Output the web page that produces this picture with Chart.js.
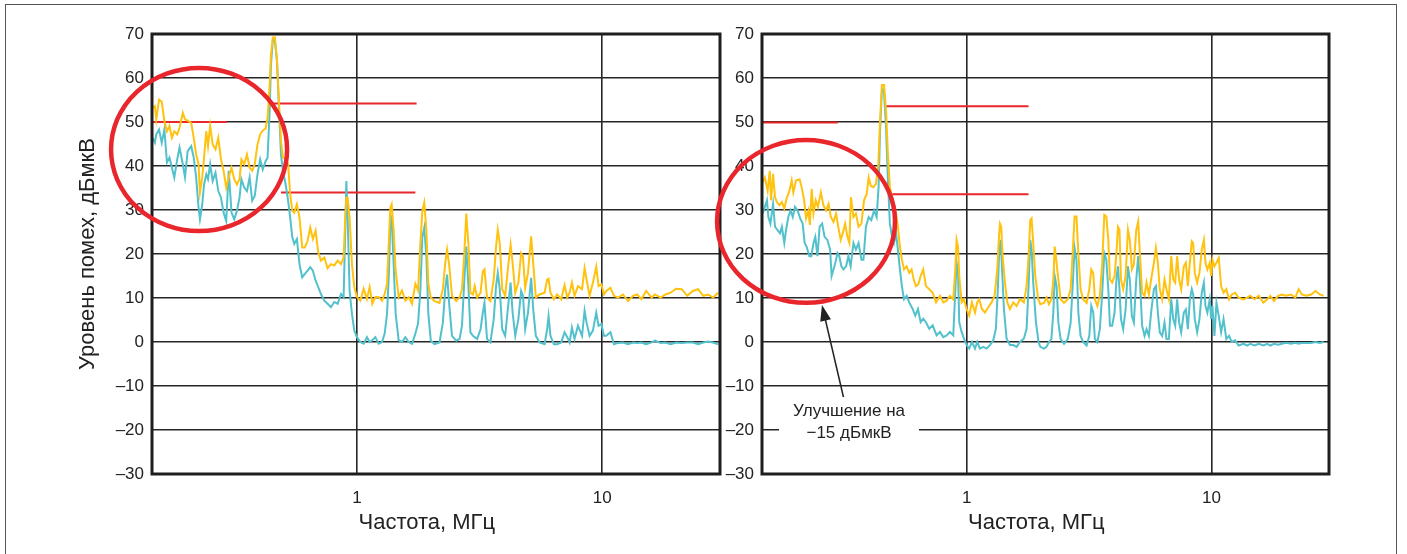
<!DOCTYPE html>
<html>
<head>
<meta charset="utf-8">
<script src="https://cdn.jsdelivr.net/npm/chart.js@4.4.1/dist/chart.umd.min.js"></script>
<style>
  html, body { margin: 0; padding: 0; background: #fff; }
  #wrap { position: relative; width: 1407px; height: 554px; overflow: hidden; }
  #frame { position: absolute; left: 5px; top: 4px; width: 1390px; height: 600px; border: 1px solid #555; }
  #c1 { position: absolute; left: 0; top: 0; }
  #c2 { position: absolute; left: 700px; top: 0; }
</style>
</head>
<body>
<div id="wrap">
  <div id="frame"></div>
  <canvas id="c1" width="722" height="554"></canvas>
  <canvas id="c2" width="707" height="554"></canvas>
</div>
<script>
// ======================
// Оси
// ======================
const xTicks = [1, 10];
const yTicks = [-30, -20, -10, 0, 10, 20, 30, 40, 50, 60, 70];

// ======================
// Левый график (до доработки)
// ======================
const leftFreq = [0.147,0.150,0.152,0.156,0.160,0.164,0.168,0.172,0.176,0.180,
  0.185,0.189,0.195,0.199,0.204,0.211,0.216,0.221,0.226,0.229,
  0.234,0.238,0.243,0.247,0.252,0.258,0.265,0.272,0.279,0.286,
  0.293,0.300,0.308,0.316,0.324,0.332,0.338,0.347,0.356,0.365,
  0.374,0.383,0.393,0.403,0.413,0.424,0.432,0.440,0.446,0.454,
  0.463,0.472,0.480,0.490,0.499,0.512,0.524,0.534,0.545,0.555,
  0.569,0.583,0.598,0.613,0.629,0.645,0.661,0.678,0.695,0.713,
  0.736,0.759,0.783,0.808,0.834,0.861,0.882,0.896,0.905,0.916,
  0.933,0.954,0.975,1.0,1.032,1.065,1.098,1.126,1.155,1.188,
  1.226,1.265,1.297,1.326,1.351,1.368,1.385,1.411,1.438,1.479,
  1.526,1.575,1.625,1.677,1.730,1.774,1.813,1.847,1.881,1.919,1.954,
  2.00,2.07,2.17,2.24,2.29,2.33,2.38,2.44,2.54,2.62,
  2.68,2.74,2.79,2.85,2.90,2.97,3.02,3.09,3.19,3.26,
  3.31,3.39,3.50,3.61,3.69,3.75,3.82,3.91,4.02,4.12,
  4.23,4.31,4.42,4.55,4.67,4.75,4.85,4.98,5.13,5.23,
  5.36,5.55,5.82,5.96,6.04,6.15,6.35,6.55,6.80,7.02,
  7.20,7.36,7.52,7.71,7.96,8.27,8.47,8.63,8.88,9.16,
  9.45,9.66,9.91,10.16,10.38,10.8,11.16,11.6,12.15,12.73,
  13.35,13.9,14.43,15.1,15.9,16.4,17.3,18.1,19.0,20.0,
  21.1,22.2,23.4,24.6,25.8,27.0,28.3,29.7];

const leftYellow = [53.2,53.6,50.6,55.1,54.6,50.2,47.9,49.1,46.4,47.9,
  47.2,48.7,52.1,50.6,50.3,49.8,46.4,42.6,40.4,34.0,
  37.4,41.9,47.9,44.5,49.1,44.9,43.8,46.4,41.5,38.9,
  35.1,37.4,39.6,37.0,35.8,37.0,41.5,40.4,42.6,39.6,
  38.9,40.4,44.9,47.2,48.1,48.5,50.9,57.7,65.3,69.2,
  69.2,63.8,55.5,45.7,41.9,41.9,40.4,33.6,29.8,29.4,
  31.3,28.3,21.5,21.5,23.0,26.0,23.4,25.3,20.4,18.5,
  19.2,16.8,17.7,17.4,18.5,17.7,19.2,28.3,32.8,32.8,
  28.3,17.7,12.5,10.2,9.4,12.1,9.8,12.5,8.7,10.2,
  10.2,9.4,10.9,13.2,23.8,30.6,31.3,25.3,16.2,10.2,
  11.7,9.4,10.2,8.7,13.2,11.7,22.3,29.8,31.7,25.3,13.2,
  10.1,9.3,8.9,12.0,18.0,21.0,17.2,10.5,9.3,10.1,
  12.0,20.2,29.2,21.7,11.2,10.8,12.7,10.1,11.2,16.1,
  16.5,10.1,9.3,14.2,21.7,25.5,22.5,12.0,10.5,16.5,
  22.1,18.0,11.2,13.5,20.2,19.5,12.3,15.7,24.0,18.0,
  10.1,10.8,11.2,14.2,14.4,11.2,9.7,10.8,9.7,12.9,
  10.1,11.2,13.5,10.5,12.7,12.0,16.8,14.2,10.5,13.5,
  17.1,12.7,13.1,10.8,11.6,12.3,10.5,10.1,10.8,9.3,
  10.5,10.8,9.7,11.6,10.1,10.8,10.1,10.8,11.2,12.1,
  12.0,10.5,11.6,12.0,10.5,10.8,10.1,11.2];

const leftCyan = [46.4,45.3,47.2,48.3,45.3,48.3,40.8,41.9,39.6,37.4,
  41.5,44.2,40.4,37.4,43.4,44.5,41.9,37.4,30.6,27.9,
  31.3,35.8,38.1,37.0,40.4,36.6,38.5,34.3,32.8,29.4,
  27.5,38.9,29.4,27.9,29.8,32.8,37.0,35.1,34.3,37.4,
  32.1,33.2,38.1,41.5,39.2,41.1,41.9,51.7,63.0,68.7,
  68.3,63.8,54.0,42.6,38.9,35.8,32.1,28.3,23.8,22.3,
  23.4,17.7,14.7,15.5,16.2,17.0,16.2,14.0,12.5,10.9,
  9.4,8.7,7.9,9.1,8.7,10.9,10.2,25.3,36.6,28.3,
  11.7,6.4,2.6,1.1,0.0,-0.4,1.1,0.0,0.4,1.1,
  -0.4,0.0,1.9,6.4,16.2,27.5,28.3,17.7,6.4,0.4,
  0.0,1.1,0.0,-0.4,1.9,4.2,11.7,23.8,26.0,19.2,6.4,
  0.3,-0.5,-0.1,4.4,12.0,15.3,8.2,1.4,0.3,0.7,
  3.7,14.2,21.7,12.0,2.2,1.4,1.1,0.7,2.9,6.7,
  8.9,0.7,-0.1,5.2,12.7,15.7,12.0,2.9,1.4,7.4,
  13.5,6.7,1.4,5.2,11.6,10.5,2.9,6.7,14.6,7.4,
  1.4,-0.1,-0.5,2.9,5.9,1.4,-0.5,-0.5,-0.1,2.2,
  1.1,-0.1,3.3,0.7,3.7,1.4,7.1,4.4,1.4,2.6,
  6.7,3.7,4.1,1.4,1.4,2.2,-0.5,-0.2,-0.1,-0.5,
  -0.1,-0.2,-0.1,-0.5,-0.1,0.3,-0.2,-0.1,-0.5,-0.1,
  -0.2,-0.1,-0.1,-0.5,-0.1,0.1,-0.1,-0.5];

// ======================
// Правый график (после доработки)
// ======================
const rightYellowFreq = [0.147,0.150,0.154,0.157,0.159,0.162,0.165,0.168,0.172,0.176,
  0.180,0.184,0.189,0.193,0.196,0.201,0.208,0.212,0.217,0.221,
  0.226,0.229,0.233,0.237,0.242,0.247,0.254,0.260,0.267,0.273,
  0.279,0.286,0.293,0.299,0.306,0.312,0.319,0.326,0.332,0.337,
  0.345,0.353,0.362,0.372,0.381,0.391,0.398,0.406,0.416,0.426,
  0.436,0.443,0.451,0.460,0.469,0.477,0.486,0.496,0.505,0.515,
  0.524,0.534,0.544,0.555,0.569,0.583,0.596,0.610,0.621,0.635,
  0.649,0.665,0.682,0.704,0.727,0.750,0.778,0.803,0.829,0.855,
  0.882,0.899,0.910,0.922,0.933,0.954,0.975,1.0,1.025,1.051,
  1.082,1.105,1.126,1.155,1.188,1.226,1.265,1.301,1.334,1.351,
  1.368,1.385,1.403,1.434,1.466,1.503,1.551,1.600,1.651,1.714,
  1.758,1.791,1.819,1.842,1.871,1.907,1.961,
  2.00,2.07,2.12,2.17,2.22,2.26,2.29,2.33,2.37,2.42,
  2.50,2.59,2.66,2.72,2.76,2.81,2.86,2.92,2.99,3.09,
  3.17,3.23,3.29,3.34,3.42,3.50,3.58,3.65,3.72,3.79,
  3.85,3.93,4.02,4.10,4.15,4.21,4.27,4.36,4.46,4.56,
  4.64,4.73,4.82,4.93,5.02,5.10,5.21,5.33,5.43,5.55,
  5.67,5.82,5.93,6.04,6.15,6.29,6.43,6.55,6.70,6.85,
  6.98,7.11,7.24,7.38,7.52,7.71,7.86,8.01,8.16,8.31,
  8.42,8.55,8.74,8.93,9.13,9.31,9.45,9.62,9.84,9.97,
  10.09,10.28,10.48,10.71,10.95,11.2,11.5,11.8,12.1,12.5,
  12.9,13.5,14.0,14.4,15.0,15.6,16.3,16.9,17.4,18.0,
  18.7,19.4,20.2,21.1,22.0,22.7,23.4,24.4,25.5,26.6,
  27.7,28.7];

const rightYellow = [36.3,37.4,34.4,38.9,32.2,38.2,32.9,31.8,31.1,31.8,
  30.3,32.6,34.4,36.7,34.0,36.7,37.0,35.2,32.2,28.1,
  29.9,26.6,34.8,29.2,32.2,30.7,34.0,31.1,29.9,31.4,
  28.4,27.3,29.2,26.2,23.2,24.7,26.9,23.9,22.5,32.9,
  28.4,29.2,26.2,26.9,32.2,33.7,37.4,35.5,35.2,35.9,
  40.4,50.1,58.4,58.4,52.4,42.6,35.2,32.9,31.4,29.2,
  26.2,21.7,18.7,16.5,17.2,15.7,16.5,13.9,12.7,13.1,
  15.0,16.5,12.7,12.0,11.2,9.0,10.5,9.0,9.4,10.5,
  9.7,16.5,23.2,21.7,15.0,9.0,9.7,7.5,6.0,9.0,
  6.7,9.0,9.7,7.5,6.7,7.9,9.0,10.5,16.5,22.5,
  26.9,26.2,19.5,13.5,9.0,7.5,9.0,8.2,9.7,9.0,
  12.7,19.5,27.7,28.1,22.5,15.0,9.7,
  8.6,8.9,10.1,8.6,9.7,14.2,21.7,18.0,14.2,9.7,
  8.9,9.7,12.0,21.7,28.5,28.5,20.2,12.0,9.7,8.9,
  12.0,16.5,15.7,9.7,8.2,10.5,18.0,28.9,28.5,23.2,
  14.2,13.5,15.0,21.0,26.2,25.5,14.2,12.0,15.0,25.5,
  23.2,16.5,17.6,25.5,27.4,20.2,11.2,10.5,13.5,10.8,
  14.2,18.0,21.4,18.0,12.0,9.7,14.2,12.0,9.7,19.5,
  14.2,13.5,19.5,14.2,12.0,17.2,18.0,12.7,18.0,22.9,
  22.5,15.7,13.5,15.7,21.0,23.2,18.0,16.5,18.0,15.0,
  18.7,17.2,18.0,19.1,12.7,11.2,12.0,9.7,10.8,11.2,
  10.1,9.7,10.1,10.5,9.7,10.5,8.9,9.7,10.5,9.3,
  10.5,10.8,10.5,10.8,10.1,12.0,10.8,10.5,10.8,11.6,
  10.8,10.5];

const rightCyanFreq = [0.147,0.150,0.153,0.155,0.158,0.162,0.165,0.169,0.173,0.176,
  0.180,0.183,0.187,0.191,0.195,0.199,0.204,0.209,0.214,0.218,
  0.222,0.228,0.232,0.237,0.241,0.246,0.251,0.257,0.263,0.270,
  0.277,0.281,0.286,0.291,0.297,0.302,0.308,0.314,0.322,0.329,
  0.336,0.345,0.353,0.362,0.372,0.379,0.388,0.398,0.408,0.419,
  0.429,0.437,0.443,0.451,0.460,0.469,0.477,0.486,0.496,0.505,
  0.515,0.524,0.534,0.544,0.555,0.569,0.583,0.602,0.617,0.633,
  0.649,0.665,0.682,0.704,0.727,0.754,0.778,0.803,0.829,0.855,
  0.882,0.896,0.910,0.922,0.933,0.954,0.975,1.0,1.025,1.051,
  1.082,1.105,1.133,1.170,1.207,1.245,1.285,1.317,1.343,1.359,
  1.377,1.394,1.420,1.456,1.503,1.551,1.600,1.651,1.714,1.758,
  1.791,1.819,1.842,1.871,1.919,1.967,
  2.00,2.07,2.12,2.17,2.22,2.26,2.29,2.33,2.37,2.42,
  2.50,2.59,2.66,2.72,2.76,2.81,2.86,2.92,2.99,3.09,
  3.17,3.23,3.29,3.34,3.42,3.50,3.58,3.65,3.72,3.79,
  3.85,3.93,4.02,4.10,4.15,4.21,4.27,4.36,4.46,4.56,
  4.64,4.73,4.82,4.93,5.02,5.10,5.21,5.33,5.43,5.55,
  5.67,5.82,5.93,6.04,6.15,6.29,6.43,6.55,6.70,6.85,
  6.98,7.11,7.24,7.38,7.52,7.71,7.86,8.01,8.16,8.31,
  8.42,8.55,8.74,8.93,9.13,9.31,9.45,9.62,9.84,9.97,
  10.09,10.28,10.48,10.71,10.95,11.2,11.5,11.8,12.1,12.5,
  12.9,13.5,14.0,14.4,15.0,15.6,16.3,16.9,17.4,18.0,
  18.7,19.4,20.2,21.1,22.0,22.7,23.4,24.4,25.5,26.6,
  27.7,28.7];

const rightCyan = [29.2,30.7,32.2,28.4,26.9,31.4,26.2,25.4,24.7,26.2,
  22.5,25.4,28.4,29.9,28.4,30.7,29.9,28.1,26.9,22.5,
  21.7,19.5,19.5,22.5,23.9,19.5,26.2,26.9,23.9,23.2,
  21.0,15.0,16.5,18.0,20.2,19.5,17.2,16.5,17.2,19.5,
  17.2,22.5,21.0,22.5,18.7,18.7,26.2,28.4,27.7,29.9,
  28.4,35.2,47.9,57.6,56.9,48.6,36.7,26.9,23.9,22.5,
  24.7,21.0,16.5,12.7,9.7,10.5,9.0,7.5,6.0,7.5,
  4.5,5.3,4.5,3.0,3.8,1.5,2.3,1.1,1.5,2.3,
  1.5,9.7,18.0,16.5,4.5,2.3,0.8,-0.7,-1.5,0.0,
  -1.5,0.0,-1.5,-1.1,-1.5,-0.7,0.4,3.0,12.7,21.0,
  23.2,17.2,7.5,0.8,-0.7,-0.7,-1.1,0.0,0.8,3.0,
  12.7,23.2,21.0,13.5,4.5,0.0,
  -1.1,-1.5,-1.1,0.0,0.7,6.7,15.0,12.7,4.4,0.7,
  -0.4,0.7,4.4,14.2,21.4,18.7,6.7,1.4,0.0,-0.8,
  1.4,8.2,6.7,0.7,0.0,2.9,11.2,20.2,18.7,12.0,
  3.7,3.7,6.7,15.0,17.2,12.0,5.2,2.9,7.4,17.2,
  14.2,5.9,4.4,14.2,19.5,14.2,3.7,1.4,2.9,1.4,
  6.7,12.0,12.7,6.7,2.2,1.4,4.4,0.7,0.7,9.7,
  5.2,3.7,9.7,4.4,2.2,6.7,7.4,2.9,9.7,12.0,
  10.8,5.2,2.2,5.2,11.2,13.5,8.2,6.7,9.7,5.2,
  8.2,1.4,8.9,5.9,2.2,5.2,0.7,1.4,0.0,0.4,
  -0.8,-0.4,-0.8,-0.4,-0.8,-0.4,-0.8,-0.4,-0.8,-0.4,
  -0.6,-0.4,-0.2,-0.4,-0.2,-0.4,-0.2,-0.2,-0.2,0.0,
  -0.2,0.0];

// ======================
// Нормы (красные линии): от, до, уровень
// ======================
const leftLimFrom = [0.146, 0.450, 0.490];
const leftLimTo = [0.295, 1.75, 1.73];
const leftLimLevel = [50.0, 54.2, 34.0];
const rightLimFrom = [0.146, 0.461, 0.484];
const rightLimTo = [0.298, 1.79, 1.79];
const rightLimLevel = [49.9, 53.6, 33.6];

const YELLOW = "#FFC20E";
const CYAN = "#52C1CC";
const RED = "#E8262B";
const GRID = "#262626";
const TEXT = "#222";

Chart.defaults.font.family = "'Liberation Sans', Arial, sans-serif";
Chart.defaults.color = TEXT;

function series(freq, vals, color) {
  return {
    data: freq.map((f, i) => ({ x: f, y: vals[i] })),
    borderColor: color, borderWidth: 2, pointRadius: 0, tension: 0, fill: false
  };
}

function limits(from, to, level) {
  return from.map((f, i) => ({
    data: [{ x: f, y: level[i] }, { x: to[i], y: level[i] }],
    borderColor: RED, borderWidth: 2, pointRadius: 0, fill: false
  }));
}

// рамка, круги, стрелка и подпись
const notes = {
  id: "notes",
  afterDatasetsDraw(chart) {
    const a = chart.chartArea, ctx = chart.ctx;
    ctx.save();
    ctx.lineWidth = 3;
    ctx.strokeStyle = "#1e1e1e";
    ctx.strokeRect(a.left, a.top, a.right - a.left, a.bottom - a.top);
    ctx.restore();
  },
  afterDraw(chart, args, o) {
    const xs = chart.scales.x, ys = chart.scales.y, ctx = chart.ctx;
    ctx.save();
    if (o.ring) {
      const x0 = xs.getPixelForValue(o.ring.f0), x1 = xs.getPixelForValue(o.ring.f1);
      const y0 = ys.getPixelForValue(o.ring.v0), y1 = ys.getPixelForValue(o.ring.v1);
      ctx.beginPath();
      ctx.ellipse((x0 + x1) / 2, (y0 + y1) / 2, Math.abs(x1 - x0) / 2, Math.abs(y1 - y0) / 2, 0, 0, Math.PI * 2);
      ctx.lineWidth = 4.5;
      ctx.strokeStyle = RED;
      ctx.stroke();
    }
    if (o.label) {
      const L = o.label;
      ctx.font = "17px 'Liberation Sans', Arial, sans-serif";
      const cx = xs.getPixelForValue(L.f);
      const ya = ys.getPixelForValue(L.v1), yb = ys.getPixelForValue(L.v2);
      const w = Math.max(...L.lines.map(t => ctx.measureText(t).width)) + 28;
      ctx.fillStyle = "#fff";
      ctx.fillRect(cx - w / 2, ya - 12, w, yb - ya + 24);
      ctx.fillStyle = TEXT;
      ctx.textAlign = "center";
      ctx.textBaseline = "middle";
      ctx.fillText(L.lines[0], cx, ya);
      ctx.fillText(L.lines[1], cx, yb);

      const tx = xs.getPixelForValue(L.tipF), ty = ys.getPixelForValue(L.tipV);
      const sx = xs.getPixelForValue(L.tailF), sy = ys.getPixelForValue(L.tailV);
      const ang = Math.atan2(ty - sy, tx - sx);
      ctx.strokeStyle = TEXT;
      ctx.lineWidth = 1.5;
      ctx.beginPath();
      ctx.moveTo(sx, sy);
      ctx.lineTo(tx - 12 * Math.cos(ang), ty - 12 * Math.sin(ang));
      ctx.stroke();
      ctx.beginPath();
      ctx.moveTo(tx, ty);
      ctx.lineTo(tx - 16 * Math.cos(ang) + 5.5 * Math.sin(ang), ty - 16 * Math.sin(ang) - 5.5 * Math.cos(ang));
      ctx.lineTo(tx - 16 * Math.cos(ang) - 5.5 * Math.sin(ang), ty - 16 * Math.sin(ang) + 5.5 * Math.cos(ang));
      ctx.closePath();
      ctx.fillStyle = TEXT;
      ctx.fill();
    }
    ctx.restore();
  }
};

function makeChart(id, p) {
  new Chart(document.getElementById(id), {
    type: "line",
    data: {
      datasets: [
        series(p.yFreq, p.yellow, YELLOW),
        series(p.cFreq, p.cyan, CYAN),
        ...limits(p.limFrom, p.limTo, p.limLevel)
      ]
    },
    options: {
      responsive: false,
      animation: false,
      layout: { padding: { left: 0, right: p.padRight, top: 34, bottom: 0 } },
      plugins: {
        legend: { display: false },
        tooltip: { enabled: false },
        notes: p.notes
      },
      scales: {
        x: {
          type: "logarithmic",
          min: 0.146,
          max: 30.2,
          afterBuildTicks: s => { s.ticks = xTicks.map(v => ({ value: v })); },
          afterFit: s => { s.height = 80; },
          ticks: { callback: v => String(v), font: { size: 17 }, padding: 14, maxRotation: 0, autoSkip: false },
          grid: { color: GRID, lineWidth: 1.6, drawTicks: false },
          border: { display: false },
          // неразрывные пробелы сдвигают подпись чуть левее центра, как в оригинале
          title: { display: true, text: "Частота, МГц\u00a0\u00a0\u00a0", font: { size: 22 }, padding: { top: 0, bottom: 18 } }
        },
        y: {
          min: -30,
          max: 70,
          afterBuildTicks: s => { s.ticks = yTicks.map(v => ({ value: v })); },
          afterFit: s => { s.width = p.yWidth; },
          ticks: { callback: v => v < 0 ? "\u2013" + (-v) : String(v), font: { size: 17 }, padding: 8 },
          grid: { color: GRID, lineWidth: 1.6, drawTicks: false },
          border: { display: false },
          title: { display: p.yTitle, text: "Уровень помех, дБмкВ", font: { size: 22 }, padding: { top: 75, bottom: 0 } }
        }
      }
    },
    plugins: [notes]
  });
}

makeChart("c1", {
  yFreq: leftFreq, yellow: leftYellow,
  cFreq: leftFreq, cyan: leftCyan,
  limFrom: leftLimFrom, limTo: leftLimTo, limLevel: leftLimLevel,
  yWidth: 152, padRight: 2, yTitle: true,
  notes: { ring: { f0: 0.0994, f1: 0.519, v0: 62.3, v1: 25.2 } }
});

makeChart("c2", {
  yFreq: rightYellowFreq, yellow: rightYellow,
  cFreq: rightCyanFreq, cyan: rightCyan,
  limFrom: rightLimFrom, limTo: rightLimTo, limLevel: rightLimLevel,
  yWidth: 62, padRight: 78, yTitle: false,
  notes: {
    ring: { f0: 0.0957, f1: 0.510, v0: 45.9, v1: 8.9 },
    label: {
      f: 0.331, v1: -15.8, v2: -20.75,
      lines: ["Улучшение на", "\u221215 дБмкВ"],
      tipF: 0.2566, tipV: 8.4, tailF: 0.314, tailV: -12.5
    }
  }
});
</script>
</body>
</html>
